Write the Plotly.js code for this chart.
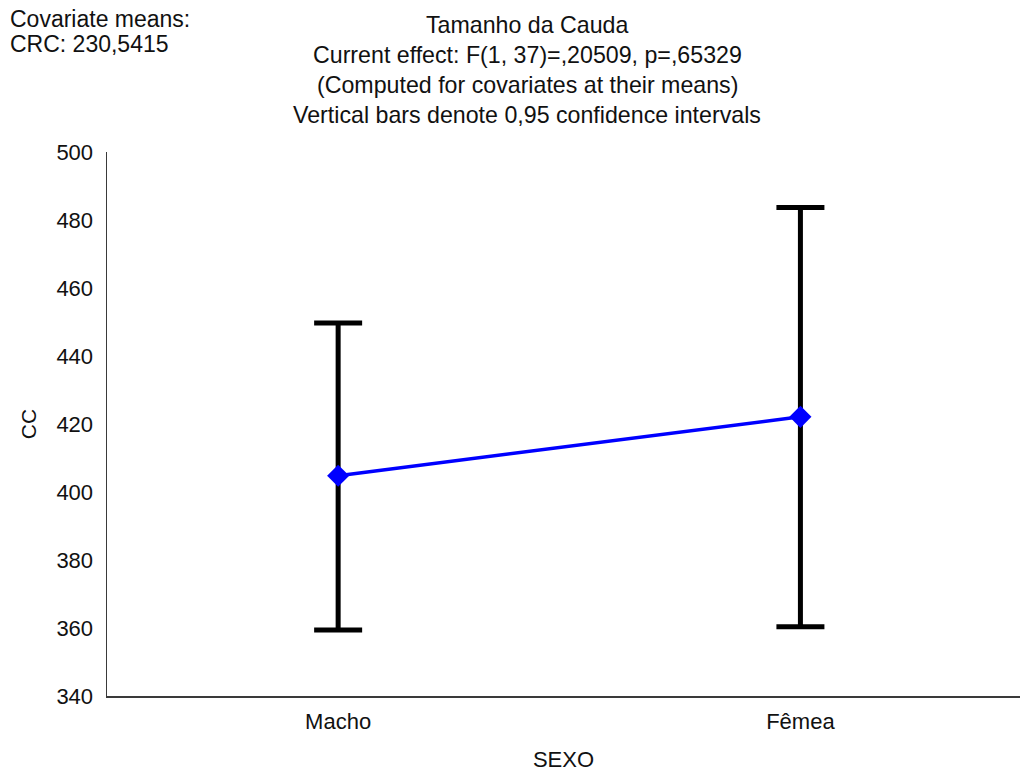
<!DOCTYPE html>
<html>
<head>
<meta charset="utf-8">
<script src="https://cdn.plot.ly/plotly-3.0.1.min.js"></script>
<style>html,body{margin:0;padding:0;background:#fff;}#chart{width:1021px;height:773px;}</style>
</head>
<body>
<div id="chart"></div>
<script>
var categories = ["Macho", "Fêmea"];
var means = [404.8, 422.1];
var upper = [449.7, 483.7];
var lower = [359.4, 360.4];
var yTicks = [340, 360, 380, 400, 420, 440, 460, 480, 500];
var titleLines = [
  "Tamanho da Cauda",
  "Current effect: F(1, 37)=,20509, p=,65329",
  "(Computed for covariates at their means)",
  "Vertical bars denote 0,95 confidence intervals"
];
var covariateLines = ["Covariate means:", "CRC: 230,5415"];

var errPlus = means.map(function(m, i){ return upper[i] - m; });
var errMinus = means.map(function(m, i){ return m - lower[i]; });

var font = "Liberation Sans, Arial, sans-serif";
var txtColor = "#111111";

var trace = {
  x: categories,
  y: means,
  type: "scatter",
  mode: "lines+markers",
  line: {color: "#0000ff", width: 3.5},
  marker: {symbol: "diamond", size: 17, color: "#0000ff"},
  error_y: {
    type: "data",
    symmetric: false,
    array: errPlus,
    arrayminus: errMinus,
    color: "#000000",
    thickness: 5,
    width: 24
  },
  hoverinfo: "none"
};

// plot area geometry in pixels (used only for text placement)
var L = 107, T = 152, W = 913, H = 544;
function px2x(p){ return (p - L) / W; }
function px2y(p){ return (T + H - p) / H; }

var annotations = [];
var titleY = [25, 55, 85, 115];
titleLines.forEach(function(t, i){
  annotations.push({
    text: t, xref: "paper", yref: "paper",
    x: px2x(527), y: px2y(titleY[i]),
    xanchor: "center", yanchor: "middle",
    showarrow: false,
    font: {family: font, size: 23.2, color: txtColor}
  });
});
var covY = [18.5, 43.5];
covariateLines.forEach(function(t, i){
  annotations.push({
    text: t, xref: "paper", yref: "paper",
    x: px2x(8), y: px2y(covY[i]),
    xanchor: "left", yanchor: "middle",
    showarrow: false,
    font: {family: font, size: 23, color: txtColor}
  });
});

var layout = {
  width: 1021,
  height: 773,
  margin: {l: 107, r: 1, t: 152, b: 77},
  paper_bgcolor: "#ffffff",
  plot_bgcolor: "#ffffff",
  showlegend: false,
  font: {family: font, size: 22, color: txtColor},
  xaxis: {
    type: "category",
    range: [-0.5, 1.475],
    showgrid: false,
    zeroline: false,
    showline: true,
    linecolor: "#3a3a3a",
    linewidth: 2,
    ticks: "",
    ticklabelstandoff: 5,
    tickfont: {family: font, size: 22, color: txtColor},
    title: {text: "SEXO", font: {family: font, size: 22, color: txtColor}, standoff: 18},
    automargin: false
  },
  yaxis: {
    range: [340, 500],
    tickvals: yTicks,
    ticktext: yTicks.map(String),
    showgrid: false,
    zeroline: false,
    showline: true,
    linecolor: "#3a3a3a",
    linewidth: 1.5,
    ticks: "",
    ticklabelstandoff: 8,
    tickfont: {family: font, size: 22, color: txtColor},
    title: {text: "CC", font: {family: font, size: 21, color: txtColor}, standoff: 14},
    automargin: false
  },
  annotations: annotations
};

Plotly.newPlot("chart", [trace], layout, {staticPlot: true, displayModeBar: false});
</script>
</body>
</html>
